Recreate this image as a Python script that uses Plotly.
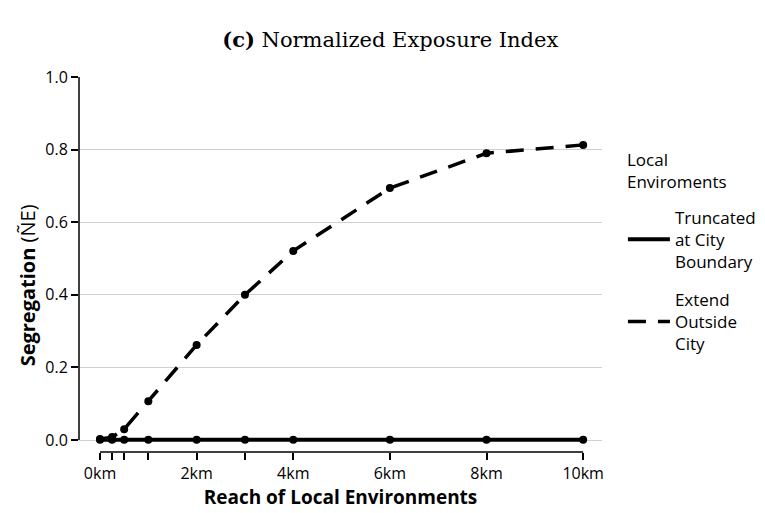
import plotly.graph_objects as go

reach_km = [0, 0.25, 0.5, 1, 2, 3, 4, 6, 8, 10]
truncated = [0.001, 0.001, 0.001, 0.001, 0.001, 0.001, 0.001, 0.001, 0.001, 0.001]
extended = [0.003, 0.008, 0.030, 0.107, 0.262, 0.400, 0.521, 0.694, 0.790, 0.813]
tick_vals = [0, 0.25, 0.5, 1, 2, 3, 4, 6, 8, 10]
tick_text = ["0km", "", "", "", "2km", "", "4km", "6km", "8km", "10km"]
y_ticks = [0.0, 0.2, 0.4, 0.6, 0.8, 1.0]

SANS = "Open Sans, DejaVu Sans, sans-serif"
SERIF = "DejaVu Serif, Liberation Serif, serif"

fig = go.Figure()
fig.add_trace(go.Scatter(x=reach_km, y=truncated, mode="lines",
                         line=dict(color="black", width=4),
                         name="Truncated<br>at City<br>Boundary", legendgroup="a"))
fig.add_trace(go.Scatter(x=reach_km, y=truncated, mode="markers",
                         marker=dict(color="black", size=8), showlegend=False))
fig.add_trace(go.Scatter(x=reach_km, y=extended, mode="lines",
                         line=dict(color="black", width=3.5, dash="18px,12px"),
                         name="Extend<br>Outside<br>City", legendgroup="b"))
fig.add_trace(go.Scatter(x=reach_km, y=extended, mode="markers",
                         marker=dict(color="black", size=8), showlegend=False))

fig.update_layout(
    width=757, height=505,
    margin=dict(l=71, r=163, t=69, b=61, autoexpand=False),
    plot_bgcolor="white", paper_bgcolor="white",
    font=dict(family=SANS, size=16, color="black"),
    title=dict(text="<b>(c)</b> Normalized Exposure Index", x=0.505, xref="container",
               xanchor="center", y=0.937, yanchor="middle", automargin=False,
               font=dict(family=SERIF, size=21, color="black")),
    showlegend=True,
    legend=dict(x=1.04, y=0.673, xanchor="left", yanchor="top",
                traceorder="grouped", tracegroupgap=13, itemwidth=42,
                font=dict(size=17), bgcolor="rgba(0,0,0,0)"),
    xaxis=dict(range=[-0.435, 10.39], tickvals=tick_vals, ticktext=tick_text,
               ticks="outside", ticklen=7, tickwidth=1.5, tickcolor="black",
               showgrid=False, zeroline=False, showline=False, automargin=False,
               title=dict(text="<b>Reach of Local Environments</b>", standoff=6)),
    yaxis=dict(range=[-0.033, 1.0], tickvals=y_ticks, tickformat=".1f",
               ticks="outside", ticklen=7, tickwidth=1.5, tickcolor="black",
               showgrid=True, gridcolor="#d0d0d0", gridwidth=1,
               zeroline=False, showline=False, automargin=False),
    annotations=[
        dict(text="Local<br>Enviroments", xref="paper", yref="paper",
             x=1.044, y=0.752, xanchor="left", yanchor="middle", align="left",
             showarrow=False, font=dict(size=17)),
        dict(text="<b>Segregation</b> (ÑE)", xref="paper", yref="paper",
             x=-0.099, y=0.445, xanchor="center", yanchor="middle",
             textangle=-90, showarrow=False, font=dict(size=20)),
    ],
    shapes=[
        dict(type="line", xref="x", yref="paper", x0=0, x1=10, y0=0, y1=0,
             line=dict(color="black", width=1.5)),
        dict(type="line", xref="paper", yref="y", x0=0, x1=0, y0=0, y1=1.0,
             line=dict(color="black", width=1.5)),
    ],
)

fig.write_html("out.html")
